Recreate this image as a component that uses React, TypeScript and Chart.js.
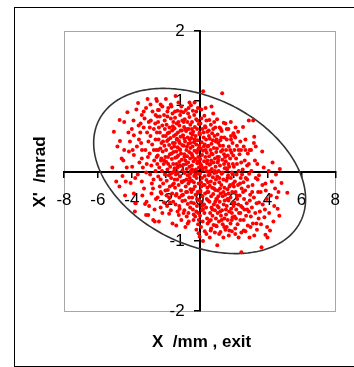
import React, { useEffect, useRef } from "react";
import { Chart, registerables } from "chart.js";

Chart.register(...registerables);

const X_TICK_RANGE = [-8, 8];
const X_TICK_STEP = 2;
const Y_TICK_RANGE = [-2, 2];
const Y_TICK_STEP = 1;
const X_TITLE = "X  /mm , exit";
const Y_TITLE = "X'  /mrad";

// Emittance ellipse: x = XMAX cos t, x' = YMAX cos(t + phase)
const ELLIPSE_X_MAX = 6.25;
const ELLIPSE_Y_MAX = 1.18;
const ELLIPSE_PHASE = Math.atan2(-0.94, -0.34);

// Particle positions [x (mm), x' (mrad)]
const PARTICLES: number[][] = [
  [-5.06,0.56],[-4.92,-0.15],[-5.15,0.05],[5.17,-0.31],
  [-4.72,0.73],[-4.7,0.43],[-4.55,-0.07],[-4.73,-0.22],[-4.6,0.18],[-4.85,0.35],
  [-4.26,0.84],[-4.45,0.7],[-4.11,0.42],[-4.45,0.3],[-4.17,0.28],[-4.36,-0.15],[-4.07,-0.17],[-4.3,0.05],[-4.2,0.55],[-4.4,-0.35],
  [-3.63,0.97],[-3.73,0.88],[-3.88,0.51],[-3.88,0.23],[-3.98,0.06],[-3.88,-0.32],[-3.79,-0.46],[-3.6,0.65],[-3.7,0.35],[-3.55,0.12],[-3.9,0.72],[-3.65,-0.05],[-3.82,-0.58],[-3.58,0.45],[-3.95,0.3],
  [-3.07,1.03],[-3.16,0.9],[-3.41,0.8],[-3.41,0.18],[-3.41,-0.15],[-3.22,-0.47],[-3.13,-0.44],[-3.16,-0.63],[-3.03,-0.63],[-3.3,0.62],[-3.1,0.55],[-3.45,0.4],[-3.2,0.3],[-3.05,0.2],[-3.35,0.05],[-3.15,-0.02],[-3.28,-0.25],[-3.48,0.68],[-3.02,0.42],[-3.38,-0.35],[-3.25,0.75],[-3.12,0.1],
  [-2.52,1.0],[-2.46,0.87],[-2.5,0.78],[-2.56,1.03],[-2.74,-0.7],[-2.65,-0.72],[-2.84,-0.32],[-2.75,-0.25],[-2.7,0.6],[-2.9,0.5],[-2.6,0.45],[-2.8,0.38],[-2.55,0.3],[-2.95,0.25],[-2.68,0.15],[-2.85,0.08],[-2.6,0.0],[-2.92,-0.05],[-2.72,-0.12],[-2.58,-0.4],[-2.98,-0.5],[-2.62,0.68],[-2.88,0.72],[-2.52,0.55],[-2.78,0.85],[-2.66,-0.55],[-2.94,0.62],[-2.54,0.2],[-2.82,-0.18],
  [-2.4,0.87],[-2.3,0.95],[-2.1,0.8],[-2.45,0.7],[-2.2,0.65],[-2.05,0.6],[-2.35,0.55],[-2.15,0.5],[-2.42,0.45],[-2.25,0.4],[-2.08,0.36],[-2.32,0.32],[-2.18,0.28],[-2.47,0.22],[-2.02,0.2],[-2.28,0.15],[-2.12,0.1],[-2.38,0.05],[-2.22,0.0],[-2.05,-0.05],[-2.44,-0.08],[-2.3,-0.12],[-2.15,-0.18],[-2.35,-0.22],[-2.02,-0.28],[-2.25,-0.32],[-2.48,-0.38],[-2.1,-0.45],[-2.3,-0.52],[-2.4,-0.72],[-2.2,-0.6],[-2.06,0.72],[-2.4,0.62],[-2.16,0.42],[-2.26,0.18],[-2.44,0.3],
  [-1.99,1.03],[-1.6,0.82],[-1.85,0.9],[-1.7,0.75],[-1.55,0.7],[-1.95,0.66],[-1.78,0.62],[-1.62,0.58],[-1.88,0.54],[-1.52,0.5],[-1.72,0.47],[-1.92,0.43],[-1.58,0.4],[-1.8,0.37],[-1.66,0.33],[-1.98,0.3],[-1.54,0.27],[-1.75,0.24],[-1.86,0.2],[-1.64,0.17],[-1.96,0.13],[-1.56,0.1],[-1.74,0.06],[-1.9,0.02],[-1.6,-0.02],[-1.82,-0.06],[-1.68,-0.1],[-1.94,-0.14],[-1.52,-0.18],[-1.76,-0.22],[-1.88,-0.27],[-1.62,-0.32],[-1.8,-0.38],[-1.56,-0.44],[-1.92,-0.5],[-1.7,-0.56],[-1.8,-0.61],[-1.6,-0.75],[-1.66,0.92],[-1.9,0.78],[-1.5,0.35],[-1.84,0.45],[-1.7,-0.04],[-1.58,0.64],
  [-1.42,1.07],[-1.08,0.92],[-1.3,0.86],[-1.15,0.8],[-1.45,0.76],[-1.02,0.72],[-1.35,0.68],[-1.2,0.65],[-1.48,0.61],[-1.05,0.58],[-1.28,0.55],[-1.4,0.52],[-1.12,0.49],[-1.33,0.46],[-1.22,0.43],[-1.46,0.4],[-1.03,0.37],[-1.3,0.34],[-1.17,0.31],[-1.38,0.28],[-1.1,0.25],[-1.26,0.22],[-1.44,0.19],[-1.06,0.16],[-1.2,0.13],[-1.36,0.1],[-1.14,0.07],[-1.48,0.04],[-1.01,0.01],[-1.28,-0.02],[-1.4,-0.05],[-1.16,-0.08],[-1.32,-0.12],[-1.04,-0.16],[-1.24,-0.2],[-1.45,-0.24],[-1.1,-0.28],[-1.36,-0.33],[-1.2,-0.38],[-1.02,-0.43],[-1.42,-0.48],[-1.18,-0.54],[-1.3,-0.58],[-1.23,-0.63],[-1.08,-0.7],[-1.38,-0.78],[-1.25,0.98],[-1.12,0.58],[-1.34,0.2],[-1.05,-0.35],[-1.47,-0.12],[-1.18,0.4],
  [-0.51,0.94],[-0.81,0.87],[-0.68,0.82],[-0.95,0.84],[-0.6,0.77],[-0.88,0.74],[-0.72,0.7],[-0.55,0.66],[-0.92,0.63],[-0.64,0.6],[-0.8,0.57],[-0.52,0.54],[-0.98,0.51],[-0.7,0.48],[-0.58,0.45],[-0.86,0.42],[-0.66,0.39],[-0.94,0.36],[-0.54,0.33],[-0.78,0.3],[-0.62,0.27],[-0.9,0.24],[-0.74,0.21],[-0.56,0.18],[-0.84,0.15],[-0.68,0.12],[-0.96,0.09],[-0.6,0.06],[-0.76,0.03],[-0.52,0.0],[-0.88,-0.03],[-0.7,-0.06],[-0.58,-0.1],[-0.92,-0.14],[-0.66,-0.18],[-0.82,-0.22],[-0.54,-0.26],[-0.74,-0.3],[-0.98,-0.34],[-0.62,-0.38],[-0.86,-0.42],[-0.7,-0.47],[-0.56,-0.52],[-0.9,-0.56],[-0.76,-0.65],[-0.64,-0.72],[-0.84,-0.8],[-0.6,0.98],[-0.9,0.46],[-0.72,0.6],[-0.55,-0.04],[-0.8,0.1],[-0.66,-0.6],[-0.94,0.7],[-0.5,0.25],[-0.78,-0.12],
  [-0.32,0.8],[-0.1,0.9],[-0.4,0.86],[-0.2,0.74],[-0.45,0.7],[-0.05,0.67],[-0.28,0.63],[-0.15,0.6],[-0.38,0.56],[-0.02,0.53],[-0.24,0.5],[-0.48,0.47],[-0.12,0.44],[-0.34,0.41],[-0.2,0.38],[-0.42,0.35],[-0.06,0.32],[-0.3,0.29],[-0.16,0.26],[-0.44,0.23],[-0.08,0.2],[-0.26,0.17],[-0.36,0.14],[-0.14,0.11],[-0.46,0.08],[-0.04,0.05],[-0.22,0.02],[-0.4,-0.01],[-0.1,-0.04],[-0.32,-0.07],[-0.18,-0.1],[-0.46,-0.14],[-0.06,-0.18],[-0.28,-0.22],[-0.38,-0.26],[-0.12,-0.3],[-0.24,-0.34],[-0.44,-0.38],[-0.02,-0.42],[-0.34,-0.46],[-0.16,-0.5],[-0.4,-0.55],[-0.08,-0.6],[-0.26,-0.65],[-0.36,-0.7],[-0.09,-0.76],[-0.19,-0.84],[-0.06,-0.89],[-0.3,0.98],[-0.14,0.72],[-0.42,0.52],[-0.02,0.36],[-0.34,-0.16],[-0.2,-0.58],[-0.48,-0.3],[-0.1,0.14],[-0.26,0.44],[-0.44,0.02],
  [0.21,1.14],[0.28,0.79],[0.1,0.88],[0.4,0.72],[0.05,0.68],[0.32,0.64],[0.16,0.6],[0.46,0.56],[0.02,0.52],[0.24,0.48],[0.38,0.45],[0.12,0.41],[0.3,0.38],[0.48,0.35],[0.06,0.32],[0.2,0.29],[0.42,0.26],[0.14,0.23],[0.34,0.2],[0.04,0.17],[0.26,0.14],[0.44,0.11],[0.1,0.08],[0.36,0.05],[0.18,0.02],[0.48,-0.01],[0.02,-0.04],[0.3,-0.07],[0.14,-0.1],[0.4,-0.13],[0.08,-0.16],[0.22,-0.2],[0.46,-0.24],[0.04,-0.28],[0.32,-0.32],[0.16,-0.36],[0.42,-0.4],[0.06,-0.44],[0.26,-0.48],[0.38,-0.52],[0.12,-0.56],[0.28,-0.6],[0.02,-0.64],[0.44,-0.68],[0.18,-0.72],[0.47,-0.75],[0.08,-0.8],[0.3,-0.86],[0.0,-0.94],[0.2,-1.0],[0.35,0.9],[0.24,0.55],[0.05,0.1],[0.45,-0.3],[0.15,-0.5],[0.36,0.3],[0.1,-0.22],[0.4,0.0],
  [0.57,0.73],[0.8,0.82],[0.66,0.66],[0.92,0.62],[0.54,0.58],[0.74,0.54],[0.88,0.5],[0.6,0.46],[0.96,0.42],[0.7,0.39],[0.52,0.36],[0.84,0.33],[0.64,0.3],[0.98,0.27],[0.76,0.24],[0.56,0.21],[0.9,0.18],[0.68,0.15],[0.82,0.12],[0.58,0.09],[0.94,0.06],[0.72,0.03],[0.62,0.0],[0.86,-0.03],[0.54,-0.06],[0.78,-0.09],[0.96,-0.12],[0.66,-0.15],[0.88,-0.18],[0.6,-0.21],[0.74,-0.24],[0.92,-0.27],[0.52,-0.3],[0.8,-0.33],[0.68,-0.36],[0.98,-0.4],[0.58,-0.44],[0.84,-0.48],[0.7,-0.52],[0.9,-0.56],[0.62,-0.6],[0.76,-0.64],[0.96,-0.68],[0.56,-0.72],[0.82,-0.77],[0.68,-0.82],[0.9,-0.88],[0.6,-0.95],[0.7,0.92],[0.86,0.7],[0.64,0.1],[0.92,-0.44],[0.5,-0.16],[0.78,0.44],[0.98,-0.02],[0.66,-0.7],
  [1.33,1.11],[1.03,0.74],[1.42,0.69],[1.18,0.62],[1.3,0.57],[1.06,0.52],[1.46,0.48],[1.22,0.44],[1.1,0.4],[1.38,0.36],[1.02,0.32],[1.26,0.28],[1.44,0.24],[1.14,0.2],[1.34,0.16],[1.06,0.12],[1.2,0.08],[1.48,0.04],[1.12,0.0],[1.3,-0.04],[1.04,-0.08],[1.4,-0.12],[1.16,-0.16],[1.28,-0.2],[1.46,-0.24],[1.08,-0.28],[1.24,-0.32],[1.36,-0.36],[1.02,-0.4],[1.18,-0.44],[1.42,-0.48],[1.12,-0.52],[1.32,-0.56],[1.06,-0.6],[1.26,-0.64],[1.46,-0.68],[1.14,-0.72],[1.36,-0.76],[1.0,-0.79],[1.23,-0.87],[1.52,-0.84],[1.04,-1.06],[1.4,-0.95],[1.2,0.36],[1.36,-0.02],[1.1,-0.36],[1.48,-0.42],[1.28,0.48],[1.16,-0.1],[1.44,0.1],[1.22,-0.58],[1.05,0.2],
  [1.52,0.68],[1.99,0.54],[1.7,0.6],[1.85,0.5],[1.6,0.45],[1.94,0.4],[1.72,0.35],[1.56,0.3],[1.88,0.26],[1.66,0.22],[1.8,0.18],[1.54,0.14],[1.96,0.1],[1.74,0.06],[1.62,0.02],[1.9,-0.02],[1.68,-0.06],[1.84,-0.1],[1.58,-0.14],[1.98,-0.18],[1.76,-0.22],[1.64,-0.26],[1.92,-0.3],[1.52,-0.34],[1.82,-0.38],[1.7,-0.42],[1.96,-0.46],[1.6,-0.5],[1.86,-0.54],[1.74,-0.58],[1.56,-0.62],[1.94,-0.66],[1.66,-0.7],[1.82,-0.75],[1.6,-0.8],[1.9,-0.86],[1.72,-0.92],[1.8,0.3],[1.64,-0.1],[1.9,-0.6],[1.56,0.04],[1.98,0.22],[1.7,-0.32],[1.84,0.7],
  [2.27,0.56],[2.1,0.48],[2.4,0.42],[2.2,0.36],[2.05,0.3],[2.35,0.24],[2.15,0.18],[2.45,0.12],[2.02,0.06],[2.3,0.0],[2.18,-0.05],[2.42,-0.1],[2.08,-0.15],[2.26,-0.2],[2.48,-0.25],[2.12,-0.3],[2.36,-0.35],[2.22,-0.4],[2.04,-0.45],[2.44,-0.5],[2.16,-0.55],[2.32,-0.6],[2.06,-0.65],[2.4,-0.7],[2.24,-0.76],[2.1,-0.82],[2.46,-0.88],[2.3,-0.95],[2.46,-1.16],[2.2,0.1],[2.38,-0.18],[2.12,0.62],[2.28,-0.48],[2.02,-0.22],[2.44,0.3],[2.14,-0.68],
  [2.56,0.63],[2.9,0.72],[2.84,0.25],[2.7,0.45],[2.6,0.35],[2.95,0.3],[2.66,0.15],[2.8,0.08],[2.54,0.02],[2.92,-0.04],[2.72,-0.1],[2.58,-0.16],[2.86,-0.22],[2.68,-0.28],[2.98,-0.34],[2.62,-0.4],[2.78,-0.46],[2.52,-0.52],[2.9,-0.58],[2.74,-0.64],[2.6,-0.7],[2.84,-0.78],[2.7,-0.86],[2.94,-0.95],[2.64,-0.55],[2.8,-0.12],[2.96,-0.42],[2.56,-0.3],
  [3.16,0.72],[3.22,0.49],[3.31,0.35],[3.03,0.3],[3.31,-0.1],[3.12,-0.2],[3.4,0.1],[3.05,0.0],[3.45,-0.3],[3.2,-0.38],[3.36,-0.46],[3.08,-0.52],[3.28,-0.6],[3.48,-0.68],[3.14,-0.75],[3.38,-0.84],[3.22,-0.92],[3.02,-0.65],[3.42,-0.12],[3.26,0.15],
  [3.69,0.28],[3.5,-0.06],[3.88,-0.18],[3.88,-0.91],[3.65,-1.09],[3.6,-0.3],[3.95,-0.4],[3.72,-0.48],[3.55,-0.58],[3.82,-0.66],[3.62,-0.76],[3.9,-0.28],[3.78,0.05],[3.98,-0.8],
  [4.07,0.0],[4.26,-0.15],[4.2,-0.35],[4.4,-0.5],[4.1,-0.6],[4.35,-0.72],[4.15,-0.85],[4.45,-0.25],[4.3,0.12],
  [4.73,0.03],[4.83,-0.17],[4.55,-0.38],[4.6,-0.54],[4.7,-0.64],[4.65,-0.3],
  [-3.5,0.55],[-3.3,0.85],[-3.0,0.7],[-2.9,0.95],[-2.7,0.3],[-2.6,0.8],[-2.5,0.1],[-2.35,0.78],[-2.3,-0.3],[-2.2,0.92],[-2.1,0.15],[-2.0,0.5],[-1.95,-0.35],[-1.9,0.85],[-1.85,0.1],[-1.8,0.55],[-1.75,-0.45],[-1.7,0.95],[-1.65,0.25],[-1.6,-0.2],[-1.55,0.6],[-1.5,0.0],[-1.45,0.85],[-1.4,-0.35],[-1.35,0.45],[-1.3,0.05],[-1.25,0.7],[-1.2,-0.5],[-1.15,0.3],[-1.1,0.85],[-1.05,-0.15],[-1.0,0.5],[-0.95,-0.6],[-0.9,0.2],[-0.85,0.6],[-0.8,-0.3],[-0.75,0.35],[-0.7,-0.75],[-0.65,0.9],[-0.6,-0.15],[-0.55,0.4],[-0.5,-0.45],[-0.45,0.6],[-0.4,0.2],[-0.35,-0.62],[-0.3,0.45],[-0.25,-0.05],[-0.2,0.85],[-0.15,-0.4],[-0.1,0.3],[-0.05,-0.7],[0.0,0.55],[0.05,-0.3],[0.1,0.75],[0.15,0.05],[0.2,-0.55],[0.25,0.35],[0.3,-0.2],[0.35,0.62],[0.4,-0.9],[0.45,0.15],[0.5,-0.42],[0.55,0.5],[0.6,-0.05],[0.65,-0.85],[0.7,0.25],[0.75,-0.55],[0.8,0.6],[0.85,-0.25],[0.9,0.0],[0.95,-0.78],[1.0,0.45],[1.05,-0.5],[1.1,0.15],[1.15,-0.9],[1.2,-0.25],[1.25,0.6],[1.3,-0.7],[1.35,0.3],[1.4,-0.3],[1.45,-0.8],[1.5,0.2],[1.55,-0.55],[1.6,0.6],[1.65,-0.4],[1.7,0.1],[1.75,-0.85],[1.8,-0.2],[1.85,0.45],[1.9,-0.7],[1.95,-0.05],[2.0,-0.5],[2.05,0.5],[2.1,-0.9],[2.2,-0.35],[2.3,0.3],[2.4,-0.6],[2.5,-0.05],[2.6,-0.85],[2.7,0.3],[2.8,-0.55],[2.9,0.1],[3.0,-0.8],[3.1,-0.3],[3.2,0.4],[3.35,-0.75],[3.5,-0.45],[3.7,-0.2],[3.85,-0.55],[4.0,-0.95],[4.5,-0.05],[-4.0,0.6],[-4.5,0.15],[-3.8,-0.1],[-3.4,0.3],
];

const FONT = "'Liberation Sans', Arial, sans-serif";

const decorPlugin = {
  id: "decor",
  beforeDraw(chart: any) {
    const { ctx, chartArea } = chart;
    ctx.save();
    ctx.fillStyle = "#ffffff";
    ctx.fillRect(0, 0, chart.width, chart.height);
    ctx.strokeStyle = "#000000";
    ctx.lineWidth = 1;
    ctx.strokeRect(14.5, 7.5, 400, 359);
    ctx.strokeStyle = "#a6a6a6";
    ctx.strokeRect(
      Math.round(chartArea.left) + 0.5,
      Math.round(chartArea.top) + 0.5,
      Math.round(chartArea.right - chartArea.left),
      Math.round(chartArea.bottom - chartArea.top)
    );
    ctx.restore();
  },
  beforeDatasetsDraw(chart: any) {
    const { ctx } = chart;
    const xs = chart.scales.x;
    const ys = chart.scales.y;
    ctx.save();
    ctx.beginPath();
    const n = 240;
    for (let i = 0; i <= n; i++) {
      const t = (i / n) * Math.PI * 2;
      const px = xs.getPixelForValue(ELLIPSE_X_MAX * Math.cos(t));
      const py = ys.getPixelForValue(ELLIPSE_Y_MAX * Math.cos(t + ELLIPSE_PHASE));
      if (i === 0) ctx.moveTo(px, py);
      else ctx.lineTo(px, py);
    }
    ctx.closePath();
    ctx.strokeStyle = "#333333";
    ctx.lineWidth = 1.6;
    ctx.stroke();
    ctx.restore();
  },
  afterDraw(chart: any) {
    const { ctx, chartArea } = chart;
    ctx.save();
    ctx.fillStyle = "#000000";
    ctx.font = `bold 17px ${FONT}`;
    ctx.textAlign = "center";
    ctx.textBaseline = "middle";
    const cx = (chartArea.left + chartArea.right) / 2;
    ctx.fillText(X_TITLE, cx + 2, 342);
    ctx.translate(40, (chartArea.top + chartArea.bottom) / 2 + 1);
    ctx.rotate(-Math.PI / 2);
    ctx.fillText(Y_TITLE, 0, 0);
    ctx.restore();
  },
};

export default function App() {
  const ref = useRef<HTMLCanvasElement | null>(null);
  useEffect(() => {
    if (!ref.current) return;
    const chart = new Chart(ref.current, {
      type: "scatter",
      data: {
        datasets: [
          {
            label: "particles",
            data: PARTICLES.map(([x, y]) => ({ x, y })),
            backgroundColor: "#ff0000",
            borderWidth: 0,
            pointRadius: 2,
            pointHoverRadius: 2,
          },
        ],
      },
      options: {
        animation: false,
        responsive: false,
        events: [],
        layout: { padding: { left: 64, top: 31, right: 8, bottom: 56 } },
        plugins: { legend: { display: false }, tooltip: { enabled: false } },
        scales: {
          x: {
            type: "linear",
            position: "center",
            min: X_TICK_RANGE[0],
            max: X_TICK_RANGE[1],
            z: 1,
            ticks: {
              stepSize: X_TICK_STEP,
              color: "#000",
              font: { family: FONT, size: 17 },
              padding: 14,
              maxRotation: 0,
              autoSkip: false,
            },
            grid: { drawOnChartArea: false, drawTicks: true, tickLength: 5, color: "#000", lineWidth: 1.5 },
            border: { display: true, color: "#000", width: 2 },
          },
          y: {
            type: "linear",
            position: "center",
            min: Y_TICK_RANGE[0],
            max: Y_TICK_RANGE[1],
            z: 1,
            ticks: {
              stepSize: Y_TICK_STEP,
              color: "#000",
              font: { family: FONT, size: 17 },
              padding: 10,
              autoSkip: false,
            },
            grid: { drawOnChartArea: false, drawTicks: true, tickLength: 5, color: "#000", lineWidth: 1.5 },
            border: { display: true, color: "#000", width: 2 },
          },
        },
      },
      plugins: [decorPlugin],
    });
    return () => chart.destroy();
  }, []);
  return (
    <div style={{ position: "fixed", left: 0, top: 0, width: 354, height: 367 }}>
      <canvas ref={ref} width={354} height={367} style={{ display: "block" }} />
    </div>
  );
}
